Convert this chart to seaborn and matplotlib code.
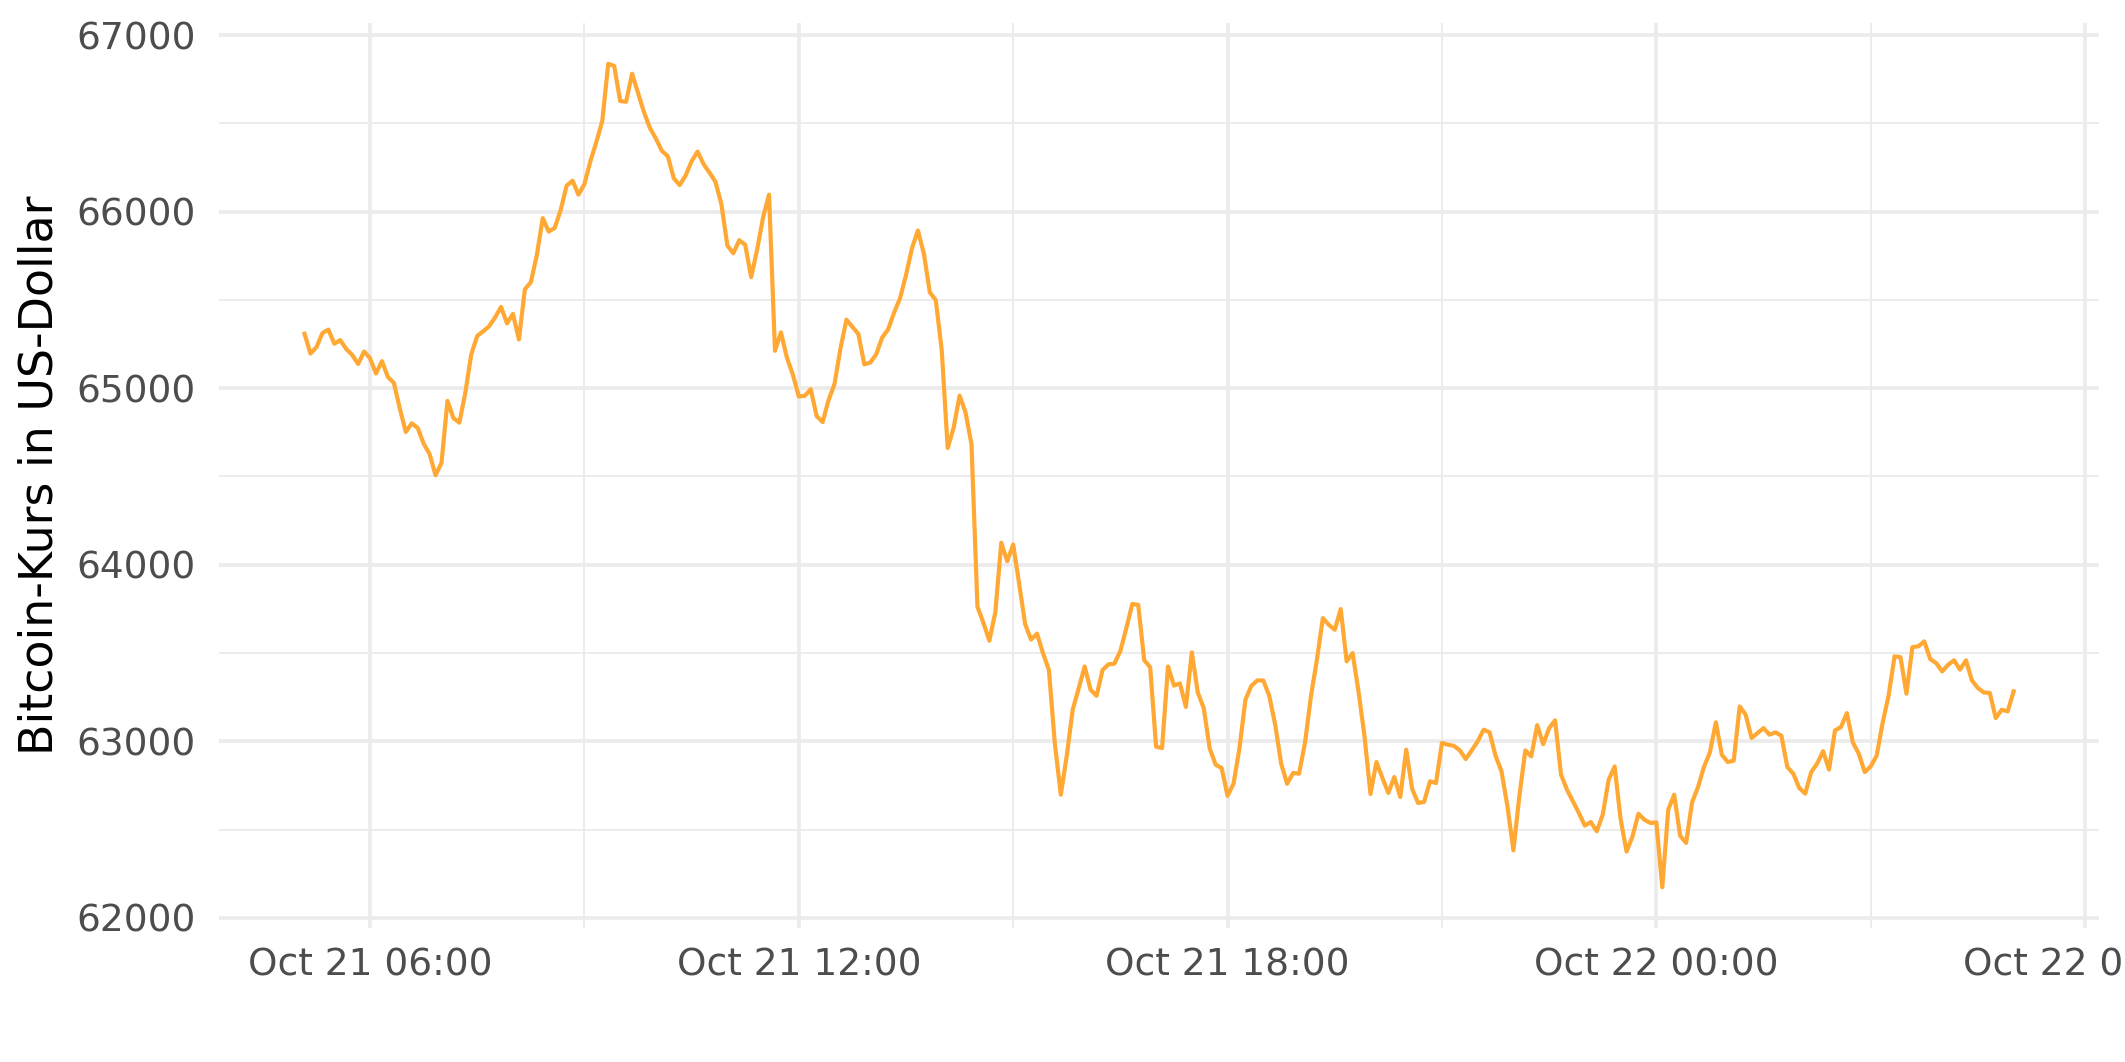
import numpy as np
import pandas as pd
import matplotlib
matplotlib.use("Agg")
import matplotlib.pyplot as plt
import matplotlib.dates as mdates
import matplotlib.ticker as mticker
import seaborn as sns

# Bitcoin price, 5-minute steps from Oct 21 05:05 to Oct 22 05:00
start_time = "2024-10-21 05:05"
price_usd = [
    # 05:05 - 11:55
    65308, 65196, 65232, 65312, 65332, 65252, 65272, 65222, 65188, 65137,
    65208, 65169, 65083, 65153, 65063, 65030, 64885, 64752, 64801, 64775,
    64686, 64627, 64507, 64577, 64928, 64831, 64805, 64974, 65192, 65296,
    65322, 65351, 65401, 65460, 65367, 65421, 65276, 65560, 65600, 65752,
    65963, 65887, 65907, 66007, 66146, 66175, 66096, 66156, 66285, 66394,
    66513, 66837, 66825, 66626, 66622, 66781, 66672, 66563, 66473, 66414,
    66344, 66314, 66189, 66150, 66205, 66285, 66340, 66269, 66221, 66169,
    66042, 65808, 65764, 65838, 65812, 65629, 65784, 65967, 66096, 65212,
    65316, 65173, 65077,
    # 12:00 - 17:55
    64953, 64957, 64994, 64842, 64808, 64933, 65024, 65226, 65388, 65347,
    65307, 65135, 65145, 65192, 65287, 65333, 65428, 65509, 65640, 65792,
    65893, 65762, 65543, 65499, 65216, 64661, 64776, 64958, 64863, 64681,
    63762, 63671, 63570, 63731, 64125, 64020, 64115, 63893, 63665, 63576,
    63610, 63500, 63404, 62985, 62698, 62920, 63180, 63300, 63424, 63292,
    63258, 63404, 63436, 63440, 63512, 63641, 63778, 63773, 63460, 63420,
    62970, 62962, 63424, 63316, 63328, 63195, 63504, 63277, 63188, 62960,
    62868, 62849,
    # 18:00 - 23:55
    62692, 62760, 62962, 63236, 63315, 63345, 63345, 63258, 63094, 62874,
    62760, 62821, 62817, 62991, 63255, 63462, 63698, 63660, 63632, 63749,
    63453, 63500, 63280, 63028, 62702, 62883, 62793, 62708, 62798, 62685,
    62953, 62730, 62651, 62657, 62774, 62764, 62991, 62981, 62975, 62949,
    62900, 62949, 63000, 63066, 63051, 62919, 62830, 62632, 62383, 62690,
    62949, 62915, 63092, 62984, 63075, 63119, 62811, 62726, 62660, 62594,
    62523, 62543, 62491, 62585, 62783, 62858, 62560, 62376, 62462, 62590,
    62556, 62538,
    # 00:00 - 05:00
    62541, 62174, 62613, 62698, 62466, 62425, 62655, 62741, 62855, 62938,
    63108, 62924, 62883, 62891, 63198, 63151, 63019, 63047, 63075, 63038,
    63051, 63032, 62855, 62817, 62736, 62704, 62825, 62874, 62944, 62840,
    63062, 63081, 63160, 62994, 62930, 62826, 62858, 62919, 63104, 63259,
    63481, 63477, 63270, 63534, 63538, 63566, 63466, 63443, 63396, 63434,
    63459, 63406, 63459, 63345, 63302, 63277, 63274, 63132, 63179, 63170,
    63283,
]
y_ticks = [62000, 63000, 64000, 65000, 66000, 67000]

df = pd.DataFrame({
    "time": pd.date_range(start_time, periods=len(price_usd), freq="5min"),
    "price": price_usd,
})

fig = plt.figure(figsize=(10.625, 5.31), dpi=200)
ax = fig.add_axes([0.1031, 0.1258, 0.8847, 0.8529])

sns.lineplot(data=df, x="time", y="price", color="#FFA833", linewidth=1.5, ax=ax)

ax.margins(x=0.05, y=0.05)

# ggplot-like minimal theme
ax.set_facecolor("white")
for s in ax.spines.values():
    s.set_visible(False)
ax.xaxis.set_major_locator(mdates.HourLocator(byhour=[0, 6, 12, 18]))
ax.xaxis.set_minor_locator(mdates.HourLocator(byhour=[3, 9, 15, 21]))
ax.xaxis.set_major_formatter(mdates.DateFormatter("%b %d %H:%M"))
ax.set_yticks(y_ticks)
ax.yaxis.set_minor_locator(mticker.MultipleLocator(500))
ax.yaxis.set_major_formatter(mticker.FuncFormatter(lambda v, p: f"{int(v)}"))

ax.grid(which="major", color="#EBEBEB", linewidth=1.3)
ax.grid(which="minor", color="#EBEBEB", linewidth=0.65)
ax.set_axisbelow(True)
ax.tick_params(which="both", length=0)
ax.tick_params(axis="y", labelsize=13.5, labelcolor="#4D4D4D", pad=8.3)
ax.tick_params(axis="x", labelsize=13.5, labelcolor="#4D4D4D", pad=7)

ax.set_xlabel("")
ax.set_ylabel("Bitcoin-Kurs in US-Dollar", fontsize=16.5, color="black")
ax.yaxis.set_label_coords(-0.0955, 0.5)
ax.yaxis.label.set_verticalalignment("center")

fig.savefig("out.png", dpi=200, facecolor="white")
